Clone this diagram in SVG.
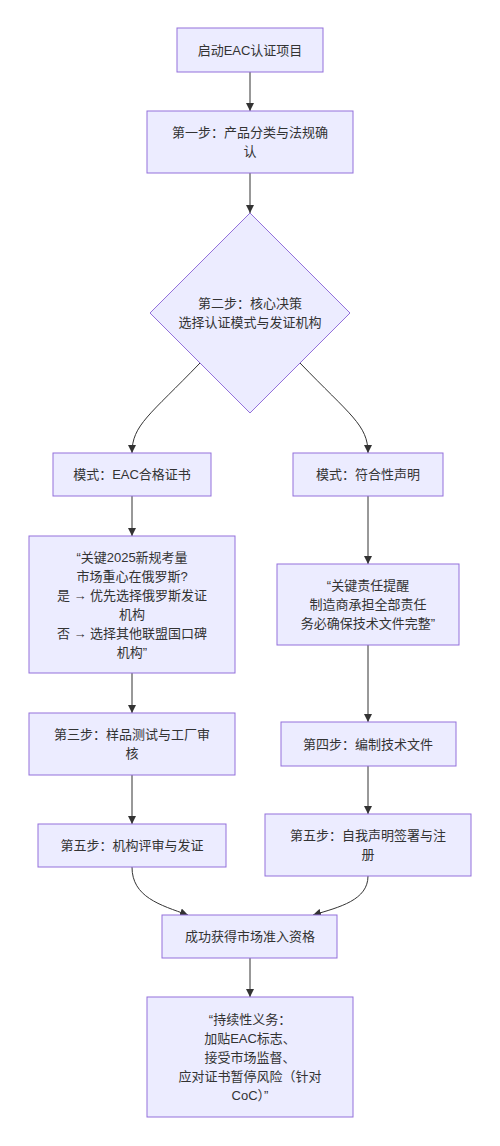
<svg xmlns="http://www.w3.org/2000/svg" width="500" height="1146" viewBox="0 0 500 1146">
<defs>
<style>
.n rect,.n polygon{fill:#ECECFF;stroke:#9370DB;stroke-width:1}
.n text{font-family:"Liberation Sans","Noto Sans CJK SC",sans-serif;font-size:13px;fill:#333;text-anchor:middle;dominant-baseline:central}
.e path{fill:none;stroke:#333;stroke-width:1}
</style>
<marker id="ah" viewBox="0 0 10 10" refX="10" refY="5" markerWidth="8" markerHeight="8" markerUnits="userSpaceOnUse" orient="auto">
<path d="M0,0 L10,5 L0,10 z" fill="#333"/>
</marker>
</defs>
<rect width="500" height="1146" fill="#fff"/>
<g id="connectors" class="e">
<path d="M250,72 L250,111" marker-end="url(#ah)"/>
<path d="M250,173 L250,213" marker-end="url(#ah)"/>
<path d="M200,363 C150,415 132,425 132,453" marker-end="url(#ah)"/>
<path d="M300,363 C350,415 368,425 368,453" marker-end="url(#ah)"/>
<path d="M132,496 L132,536" marker-end="url(#ah)"/>
<path d="M368,496 L368,564" marker-end="url(#ah)"/>
<path d="M132,673 L132,713" marker-end="url(#ah)"/>
<path d="M132,775 L132,824" marker-end="url(#ah)"/>
<path d="M368,645 L368,722" marker-end="url(#ah)"/>
<path d="M368,766 L368,814" marker-end="url(#ah)"/>
<path d="M132,867 C132,897 160,905 188,915" marker-end="url(#ah)"/>
<path d="M368,876 C368,900 340,907 313,915" marker-end="url(#ah)"/>
<path d="M250,958 L250,997" marker-end="url(#ah)"/>
</g>
<g id="start" class="n"><rect x="177" y="28" width="146" height="44"/><text x="250" y="50">启动EAC认证项目</text></g>
<g id="step1" class="n"><rect x="147" y="111" width="206" height="62"/><text x="250" y="132.5">第一步：产品分类与法规确</text><text x="250" y="151.5">认</text></g>
<g id="step2" class="n"><polygon points="250,213 350,313 250,413 150,313"/><text x="250" y="303.5">第二步：核心决策</text><text x="250" y="322.5">选择认证模式与发证机构</text></g>
<g id="modeCoC" class="n"><rect x="53" y="453" width="158" height="43"/><text x="132" y="474.5">模式：EAC合格证书</text></g>
<g id="modeDoC" class="n"><rect x="293" y="453" width="150" height="43"/><text x="368" y="474.5">模式：符合性声明</text></g>
<g id="noteCoC" class="n"><rect x="29" y="536" width="206" height="137"/>
<text x="132" y="557">“关键2025新规考量</text><text x="132" y="576">市场重心在俄罗斯?</text><text x="132" y="595">是 → 优先选择俄罗斯发证</text><text x="132" y="614">机构</text><text x="132" y="633">否 → 选择其他联盟国口碑</text><text x="132" y="652">机构”</text></g>
<g id="noteDoC" class="n"><rect x="277" y="564" width="182" height="81"/>
<text x="368" y="585.5">“关键责任提醒</text><text x="368" y="604.5">制造商承担全部责任</text><text x="368" y="623.5">务必确保技术文件完整”</text></g>
<g id="step3" class="n"><rect x="29" y="713" width="206" height="62"/><text x="132" y="734.5">第三步：样品测试与工厂审</text><text x="132" y="753.5">核</text></g>
<g id="step4" class="n"><rect x="281" y="722" width="175" height="44"/><text x="368" y="744">第四步：编制技术文件</text></g>
<g id="step5a" class="n"><rect x="38" y="824" width="188" height="43"/><text x="132" y="845.5">第五步：机构评审与发证</text></g>
<g id="step5b" class="n"><rect x="265" y="814" width="206" height="62"/><text x="368" y="835.5">第五步：自我声明签署与注</text><text x="368" y="854.5">册</text></g>
<g id="success" class="n"><rect x="162" y="915" width="175" height="43"/><text x="250" y="936.5">成功获得市场准入资格</text></g>
<g id="duty" class="n"><rect x="147" y="997" width="206" height="120"/>
<text x="250" y="1019">“持续性义务：</text><text x="250" y="1038">加贴EAC标志、</text><text x="250" y="1057">接受市场监督、</text><text x="250" y="1076">应对证书暂停风险（针对</text><text x="250" y="1095">CoC）”</text></g>
</svg>
